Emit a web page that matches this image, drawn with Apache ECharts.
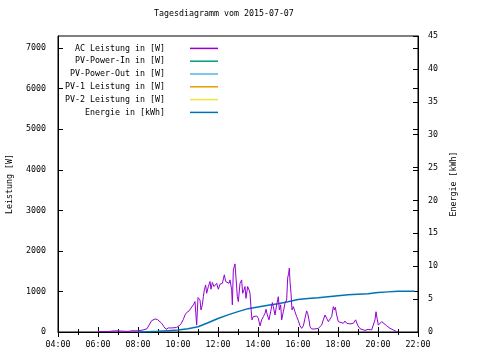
<!DOCTYPE html>
<html>
<head>
<meta charset="utf-8">
<script src="https://cdn.jsdelivr.net/npm/echarts@6/dist/echarts.min.js"></script>
<style>html,body{margin:0;padding:0;background:#fff}#c{width:480px;height:360px}</style>
</head>
<body>
<div id="c"></div>
<script>
var titleText = 'Tagesdiagramm vom 2015-07-07';
var seriesNames = ['AC Leistung in [W]', 'PV-Power-In in [W]', 'PV-Power-Out in [W]', 'PV-1 Leistung in [W]', 'PV-2 Leistung in [W]', 'Energie in [kWh]'];
var seriesColors = ['#9400d3', '#009e73', '#56b4e9', '#e69f00', '#f0e442', '#0072b2'];
var xTickLabels = ['04:00','06:00','08:00','10:00','12:00','14:00','16:00','18:00','20:00','22:00'];

var acTimes = ['06:00','06:30','06:50','06:55','07:30','07:40','08:00','08:15','08:27','08:33','08:41','08:46','08:51','08:58','09:04','09:11','09:18','09:24','09:31','09:41','09:55','10:03','10:06','10:09','10:16','10:21','10:26','10:33','10:38','10:46','10:51','10:54','10:56','11:00','11:06','11:09','11:13','11:16','11:19','11:23','11:26','11:31','11:36','11:39','11:43','11:48','11:56','12:01','12:06','12:13','12:19','12:23','12:28','12:33','12:36','12:41','12:43','12:46','12:51','12:54','12:58','13:01','13:06','13:11','13:14','13:18','13:21','13:24','13:29','13:33','13:36','13:39','13:42','13:46','13:51','13:56','14:01','14:06','14:11','14:16','14:21','14:24','14:28','14:33','14:38','14:43','14:46','14:51','14:56','15:01','15:04','15:08','15:11','15:16','15:21','15:26','15:29','15:32','15:34','15:36','15:39','15:42','15:46','15:51','15:56','16:01','16:06','16:11','16:16','16:21','16:26','16:29','16:33','16:36','16:41','16:51','17:01','17:11','17:16','17:21','17:26','17:31','17:36','17:41','17:46','17:49','17:52','17:56','18:01','18:06','18:16','18:21','18:26','18:31','18:36','18:46','18:53','18:59','19:06','19:11','19:21','19:30','19:41','19:51','19:54','19:58','20:01','20:06','20:11','20:16','20:26','20:36','20:46','20:56','21:00'];
var acValues = [10,10,30,10,15,30,30,50,80,170,280,310,320,310,265,215,130,65,100,100,110,150,130,200,310,420,480,520,560,670,750,715,170,850,790,545,670,870,1040,1160,955,1120,1245,1055,1220,1120,1200,1055,1180,1200,1410,1245,1270,1200,1285,1040,670,1530,1680,1720,870,750,1200,1285,955,1040,1120,830,1120,1040,955,585,300,380,340,395,340,150,300,380,460,560,420,300,500,725,625,420,670,870,545,670,300,500,710,790,1330,1450,1575,1245,955,545,625,500,380,280,150,90,150,340,520,460,300,130,75,75,90,170,300,420,340,255,255,380,625,545,610,420,255,215,215,270,215,255,200,215,300,170,80,50,40,65,50,300,500,300,170,215,255,215,155,90,50,10,0];

var enTimes = ['08:00','08:30','09:00','09:30','10:00','10:30','11:00','11:30','12:00','12:30','13:00','13:30','14:00','14:30','15:00','15:30','16:00','16:30','17:00','17:30','18:00','18:30','19:00','19:30','20:00','20:30','21:00','21:50'];
var enValues = [0,0.05,0.1,0.2,0.3,0.5,0.8,1.4,2.05,2.6,3.1,3.55,3.8,4.05,4.3,4.6,4.95,5.1,5.2,5.35,5.5,5.65,5.75,5.8,6.0,6.1,6.2,6.2];

function toHours(t){var p=t.split(':');return +p[0] + (+p[1])/60;}
function pairs(ts, vs){return ts.map(function(t,i){return [toHours(t), vs[i]];});}

var FONT = 'DejaVu Sans Mono';
var FS = 8.3;
var chart = echarts.init(document.getElementById('c'), null, {renderer:'canvas'});

var series = [
  {name: seriesNames[0], type:'line', data: pairs(acTimes, acValues), yAxisIndex:0, xAxisIndex:0, showSymbol:false, symbol:'none', lineStyle:{width:1, color:seriesColors[0]}, itemStyle:{color:seriesColors[0]}, animation:false, z:3},
  {name: seriesNames[1], type:'line', data: [], yAxisIndex:0, showSymbol:false, symbol:'none', lineStyle:{width:1,color:seriesColors[1]}, itemStyle:{color:seriesColors[1]}},
  {name: seriesNames[2], type:'line', data: [], yAxisIndex:0, showSymbol:false, symbol:'none', lineStyle:{width:1,color:seriesColors[2]}, itemStyle:{color:seriesColors[2]}},
  {name: seriesNames[3], type:'line', data: [], yAxisIndex:0, showSymbol:false, symbol:'none', lineStyle:{width:1,color:seriesColors[3]}, itemStyle:{color:seriesColors[3]}},
  {name: seriesNames[4], type:'line', data: [], yAxisIndex:0, showSymbol:false, symbol:'none', lineStyle:{width:1,color:seriesColors[4]}, itemStyle:{color:seriesColors[4]}},
  {name: seriesNames[5], type:'line', data: pairs(enTimes, enValues), yAxisIndex:1, xAxisIndex:0, showSymbol:false, symbol:'none', lineStyle:{width:1.5, color:seriesColors[5]}, itemStyle:{color:seriesColors[5]}, animation:false, z:2}
];

var option = {
  animation: false,
  backgroundColor: '#fff',
  textStyle: {fontFamily: FONT, fontSize: FS, color: '#000'},
  title: {text: titleText, left: 154, top: 10, padding: 0, textStyle:{fontFamily: FONT, fontSize: FS, fontWeight:'normal', color:'#000'}},
  legend: {
    orient: 'vertical', align: 'right', right: 262, top: 42, padding: 0, itemGap: 0,
    itemWidth: 28, itemHeight: 1.5, icon: 'rect',
    data: seriesNames,
    textStyle: {fontFamily: FONT, fontSize: FS, color:'#000', lineHeight: 12.8, padding:[0,20,0,0]},
    selectedMode: false
  },
  grid: {left: 58, right: 62, top: 36, bottom: 28, show: true, borderColor: '#000', borderWidth: 1, containLabel: false, outerBoundsMode: 'none'},
  xAxis: [
    {type:'value', min:4, max:22, interval:2, position:'bottom',
     axisLine:{show:true, lineStyle:{color:'#000', width:1}},
     axisTick:{show:true, inside:true, length:5, lineStyle:{color:'#000'}},
     minorTick:{show:true, splitNumber:2, length:3, lineStyle:{color:'#000'}},
     splitLine:{show:false},
     axisLabel:{fontFamily:FONT, fontSize:FS, color:'#000', margin:9, formatter:function(v){return xTickLabels[Math.round((v-4)/2)];}}},
    {type:'value', min:4, max:22, interval:2, position:'top',
     axisLine:{show:false},
     axisTick:{show:true, inside:true, length:5, lineStyle:{color:'#000'}},
     minorTick:{show:true, splitNumber:2, length:3, lineStyle:{color:'#000'}},
     splitLine:{show:false}, axisLabel:{show:false}}
  ],
  yAxis: [
    {type:'value', min:0, max:7300, interval:1000, position:'left',
     name:'Leistung [W]', nameLocation:'middle', nameGap:44, nameRotate:90,
     nameTextStyle:{fontFamily:FONT, fontSize:FS, color:'#000'},
     axisLine:{show:true, lineStyle:{color:'#000'}},
     axisTick:{show:true, inside:true, length:5, lineStyle:{color:'#000'}},
     splitLine:{show:false},
     axisLabel:{fontFamily:FONT, fontSize:FS, color:'#000', margin:12, showMaxLabel:false, formatter:function(v){return String(v);}}},
    {type:'value', min:0, max:45, interval:5, position:'right',
     name:'Energie [kWh]', nameLocation:'middle', nameGap:32, nameRotate:90,
     nameTextStyle:{fontFamily:FONT, fontSize:FS, color:'#000'},
     axisLine:{show:true, lineStyle:{color:'#000'}},
     axisTick:{show:true, inside:true, length:5, lineStyle:{color:'#000'}},
     splitLine:{show:false},
     axisLabel:{fontFamily:FONT, fontSize:FS, color:'#000', margin:10}},
    {type:'value', min:0, max:7300, interval:1000, position:'right',
     axisLine:{show:false}, axisTick:{show:true, inside:true, length:5, lineStyle:{color:'#000'}},
     splitLine:{show:false}, axisLabel:{show:false}}
  ],
  series: series
};
chart.setOption(option);
</script>
</body>
</html>
